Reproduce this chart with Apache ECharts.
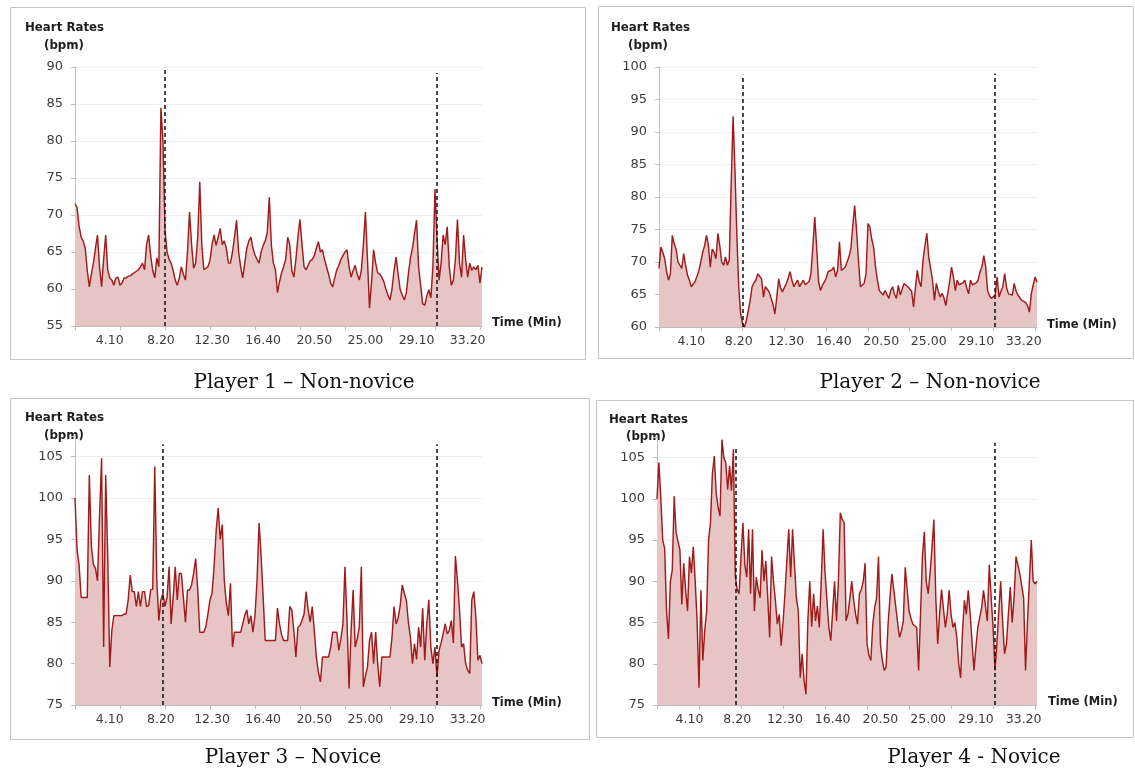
<!DOCTYPE html>
<html><head><meta charset="utf-8">
<script src="https://cdn.jsdelivr.net/npm/echarts@6/dist/echarts.min.js"></script>
<style>html,body{margin:0;padding:0;background:#fff}#c{width:1135px;height:772px}</style>
</head><body><div id="c"></div>
<script>
// ---- data (heart rate in bpm, one sample every 10 s) ----
const timeTickLabels = ['4.10','8.20','12.30','16.40','20.50','25.00','29.10','33.20'];
const player1 = [71.5,71,68.5,67,66.5,65.5,62.5,60.3,62,63.5,
65.5,67.3,63,60.3,64,67.3,62.6,61.5,61.2,60.5,
61.5,61.6,60.5,60.8,61.5,61.5,61.7,61.8,62,62.2,
62.4,62.6,63,63.5,62.6,66,67.3,64.5,62.5,61.5,
64.2,63,84.5,80,68,65,64,63.5,62.5,61.2,
60.5,61.5,63,62,61.2,65,70.4,66,62.8,63.5,
67,74.5,66,62.6,62.8,63,63.9,66,67.3,65.9,
67,68.2,66,66.5,65.5,63.5,63.5,65,67,69.3,
65,63,61.5,63.5,65.5,66.5,67,65.5,64.6,64,
63.5,65,65.9,66.5,67.6,72.4,66,63.5,62.6,59.5,
61,62.2,63,64,67,66,62.5,61.6,64,67,
69.4,66,63,62.6,63.2,63.8,64,64.5,65.5,66.4,
65,65.3,64,63,62,60.8,60.3,61.5,62.6,63.2,
64,64.5,65,65.3,63,61.6,62.5,63.2,62,61.2,
62.5,66,70.4,64,57.4,61,65.3,63.5,62.2,62,
61.6,61,60,59.2,58.5,60,62.5,64.3,62,59.9,
59.2,58.5,59.5,62,64.2,65.5,67.5,69.3,63,60.5,
58,57.8,59,59.9,58.8,63,73.5,67,61.2,63.5,
67.3,66,68.4,63,60.5,61.2,64,69.4,63.5,61.6,
67.3,64,61.6,63.5,62.5,63,62.6,63.2,60.8,63];
const player2 = [69,72.3,71.5,70.5,68.5,67.2,68.2,74.1,72.8,72,
70,70.3,69,71.3,69.5,68,67.2,66.2,66.2,67,
67.8,68.7,70,71.5,72.5,74.1,72.6,69.2,72,71.5,
70.5,74.4,72.5,70,69.5,70.8,69.5,70.3,82,92.4,
84,74,66,62,60.5,60,61,62.5,64.1,66.2,
66.8,67.2,68.2,68.5,67.4,64.6,66.2,65.8,65.4,65.6,
63.5,62,64.6,67.4,66,65.4,65.6,66.7,67.5,68.5,
67.2,66.2,66.5,67.2,66.2,66.5,67.2,66.5,66.2,67,
68.2,72.3,76.9,72.3,67,65.6,66.4,66.9,67.5,68.5,
68.2,68.8,69.2,67.7,68.7,73.1,68.7,69,69.2,69.5,
70.8,72,75.5,78.7,74.9,70.3,66.2,66.4,66.7,68.2,
75.9,75.4,73.5,72.3,69.2,67.2,65.6,65.4,64.9,65.6,
65,64.4,65.6,66.2,65,64.4,66.4,64.9,65.8,66.7,
66.4,66.2,66.2,65.5,63.1,66,68.7,67,66.2,70.3,
72.5,74.4,70.8,69,67.2,64.1,66.7,65.5,64.6,65.2,
64.5,63.3,63.6,67,69.2,67.7,65.6,67.2,66.5,66.2,
66.8,67.2,66,65.1,67.2,66.5,66.2,66.8,67.2,68.5,
69.2,71,69.2,65.6,64.8,64.4,64.6,64.9,67.7,64.6,
65.5,66.2,68.2,66,65.1,65,64.9,66.7,65.5,64.9,
64.5,64.1,64.4,63.8,63.3,62.3,65.1,66.5,67.7,66.9];
const player3 = [100,93.8,91.9,88,88,88,88,102.8,94.2,92,
91.5,90,97.8,104.8,82,102.8,93,79.6,84,85.8,
85.8,85.8,85.8,85.8,86,86,87.7,90.7,88.7,88.7,
86.9,88.7,86.9,88.7,88.7,86.9,87,88.9,89,103.8,
90,85.2,87.7,88.5,86.9,88,91.7,84.8,88,91.7,
87.7,90.9,90.9,88,85,88.9,88.9,89.5,90.9,92.7,
89,83.8,83.8,83.8,84.5,86,87.7,88.5,91.7,96,
98.8,95,96.8,90,87.3,85.8,89.7,82,83.8,83.8,
83.8,83.8,84.8,85.8,86.5,84.8,85.8,83.8,85.8,90,
97,93,88,82.8,82.8,82.8,82.8,82.8,82.8,86.7,
84.8,83.5,82.8,82.8,82.8,86.9,86.5,84,80.8,84.4,
84.6,85.2,86,88.7,86.5,85,86.9,84,80.8,79,
77.8,80.8,80.8,80.8,80.8,82,83.8,83.8,83.8,81.6,
83,84.8,91.7,85.2,77,84,88.9,82,83,84.4,
91.7,77.2,78.5,79.6,82.8,83.8,80,83.8,80,77.2,
80.8,80.8,80.8,80.8,80.8,83.2,86.9,84.8,85.5,87,
89.5,88.5,87.7,85,83.2,80,82.4,80.5,84.4,82,
86.7,80.4,84.8,87.7,82,80,82,78.4,81.6,82.5,
83.6,84.8,83.6,84,85.2,82.5,93,90,86.5,82,
82.4,80,79.2,78.8,87.7,88.7,85.6,80.4,81,80];
const player4 = [100,104.4,100,95,94,86.4,83,90,91.4,100.3,
95.9,96,93.8,87.2,92.2,88.9,86.4,93,91,94.2,
90,85.2,77.1,88.9,80.4,84,86.4,95,97.1,103,
105.2,100.7,99,97.9,107.2,105,104.4,101.1,104,101,
106,90.6,89,88.5,93,97.1,92,90.5,96.3,88.5,
96.3,86.4,90.5,89,88,93.8,90,92.5,88,83.2,
93,90,87.7,84.8,86,82.2,85,88.5,92.5,96.3,
90.5,96.3,92,88,86.4,78.3,81.2,78,76.3,85.2,
90,84.5,88.5,85.2,87,84.4,90,96.3,91,87.7,
84.4,82.8,86.4,90,85.2,90,98.3,97.5,97.1,85.2,
86,88,90,87.7,86,84.8,88.5,89,90,92.2,
82.4,81,80.4,84.8,86.8,88,93,82.4,80.4,79.2,
79.6,84.8,88,90.9,89,88.9,85,83.2,84,85.2,
91.7,89,86.4,85.5,84.8,85,84.4,79.2,86,93,
96,90,88.5,91,94,97.5,88,82.4,86,89,
88.9,84.4,86,88.9,86,84.4,85,83.2,80,78.3,
84,87.7,86,88.9,86,86,79.2,82,84.4,85.6,
86.8,88.9,87,85.2,92,88,84.4,79.2,82.5,86.4,
90,85,81.2,82.4,86,89.3,85,88,93,92,
90.9,90.9,88,79.2,85,90,95,90,89.7,90];
// dashed reference lines: [sample index, top value]
const markers1 = [[44, 90], [177, 89.2]];
const markers2 = [[44, 98.8], [177, 99]];
const markers3 = [[43, 106.5], [177, 106.5]];
const markers4 = [[41, 106.2], [177, 106.8]];
const captions = ['Player 1 \u2013 Non-novice','Player 2 \u2013 Non-novice','Player 3 \u2013 Novice','Player 4 - Novice'];

// ---- layout ----
const panels = [
  {data: player1, marks: markers1, yMin: 55, yMax: 90, grid: {left: 75, top: 67, width: 407, height: 259},
   box: [10.5, 7.5, 575, 352], hr: [25, 28], bpm: [64, 46], tm: [492, 323], cap: [304, 383]},
  {data: player2, marks: markers2, yMin: 60, yMax: 100, grid: {left: 659, top: 67, width: 378, height: 260},
   box: [598.5, 6.5, 535, 352], hr: [611, 28], bpm: [648, 46], tm: [1047, 325], cap: [930, 383]},
  {data: player3, marks: markers3, yMin: 75, yMax: 107.5, grid: {left: 75, top: 436, width: 407, height: 269},
   box: [10.5, 398.5, 579, 341], hr: [25, 418], bpm: [64, 436], tm: [492, 703], cap: [293, 758]},
  {data: player4, marks: markers4, yMin: 75, yMax: 107.5, grid: {left: 657, top: 437, width: 380, height: 268},
   box: [596.5, 400.5, 537, 337], hr: [609, 420], bpm: [646, 437], tm: [1048, 702], cap: [974, 758]}
];

const axisGray = '#bdbdbd';
const labelFont = 'DejaVu Sans';
const grids = [], xAxes = [], yAxes = [], series = [], graphics = [];
panels.forEach((p, k) => {
  const cats = p.data.map((_, i) => String(i));
  grids.push(Object.assign({containLabel: false}, p.grid));
  xAxes.push({
    type: 'category', gridIndex: k, data: cats, boundaryGap: false,
    axisLine: {lineStyle: {color: axisGray, width: 1}},
    axisTick: {show: true, interval: 21, length: 4, lineStyle: {color: axisGray}},
    axisLabel: {
      interval: (i) => i >= 17 && (i - 17) % 25 === 0,
      formatter: (v, i) => timeTickLabels[Math.round((i - 17) / 25)] || '',
      color: '#3c3c3c', fontFamily: labelFont, fontSize: 12.5, margin: 8
    },
    splitLine: {show: false}
  });
  yAxes.push({
    type: 'value', gridIndex: k, min: p.yMin, max: p.yMax, interval: 5,
    axisLine: {show: true, lineStyle: {color: axisGray, width: 1}},
    axisTick: {show: true, length: 4, lineStyle: {color: axisGray}},
    axisLabel: {formatter: (v) => (v % 5 === 0 ? String(v) : ''), color: '#3c3c3c',
      fontFamily: labelFont, fontSize: 13, margin: 12},
    splitLine: {show: true, showMaxLine: p.yMax % 5 === 0, lineStyle: {color: '#eeeeee', width: 1}}
  });
  series.push({
    type: 'line', xAxisIndex: k, yAxisIndex: k, data: p.data,
    symbol: 'none', smooth: false,
    lineStyle: {color: '#a01c1c', width: 1.45},
    areaStyle: {color: '#e8c5c5', opacity: 1},
    markLine: {
      silent: true, symbol: ['none', 'none'], label: {show: false},
      lineStyle: {type: [4, 3], color: '#111', width: 1.5},
      data: p.marks.map(m => [{coord: [String(m[0]), p.yMin]}, {coord: [String(m[0]), m[1]]}])
    }
  });
  graphics.push({type: 'rect', shape: {x: p.box[0], y: p.box[1], width: p.box[2], height: p.box[3]},
    style: {fill: 'none', stroke: '#c4c4c4', lineWidth: 1}, z: -1});
  graphics.push({type: 'text', x: p.hr[0], y: p.hr[1],
    style: {text: 'Heart Rates', fill: '#1e1e1e', font: 'bold 11.8px "DejaVu Sans"', align: 'left', verticalAlign: 'middle', textAlign: 'left', textVerticalAlign: 'middle'}});
  graphics.push({type: 'text', x: p.bpm[0], y: p.bpm[1],
    style: {text: '(bpm)', fill: '#1e1e1e', font: 'bold 11.8px "DejaVu Sans"', align: 'center', verticalAlign: 'middle', textAlign: 'center', textVerticalAlign: 'middle'}});
  graphics.push({type: 'text', x: p.tm[0], y: p.tm[1],
    style: {text: 'Time (Min)', fill: '#1e1e1e', font: 'bold 11.5px "DejaVu Sans"', align: 'left', verticalAlign: 'middle', textAlign: 'left', textVerticalAlign: 'middle'}});
  graphics.push({type: 'text', x: p.cap[0], y: p.cap[1],
    style: {text: captions[k], fill: '#111', font: '20px "DejaVu Serif"', align: 'center', verticalAlign: 'middle', textAlign: 'center', textVerticalAlign: 'middle'}});
});

const chart = echarts.init(document.getElementById('c'), null, {renderer: 'canvas'});
chart.setOption({
  animation: false,
  backgroundColor: '#ffffff',
  grid: grids, xAxis: xAxes, yAxis: yAxes, series: series,
  graphic: graphics
});
</script></body></html>
